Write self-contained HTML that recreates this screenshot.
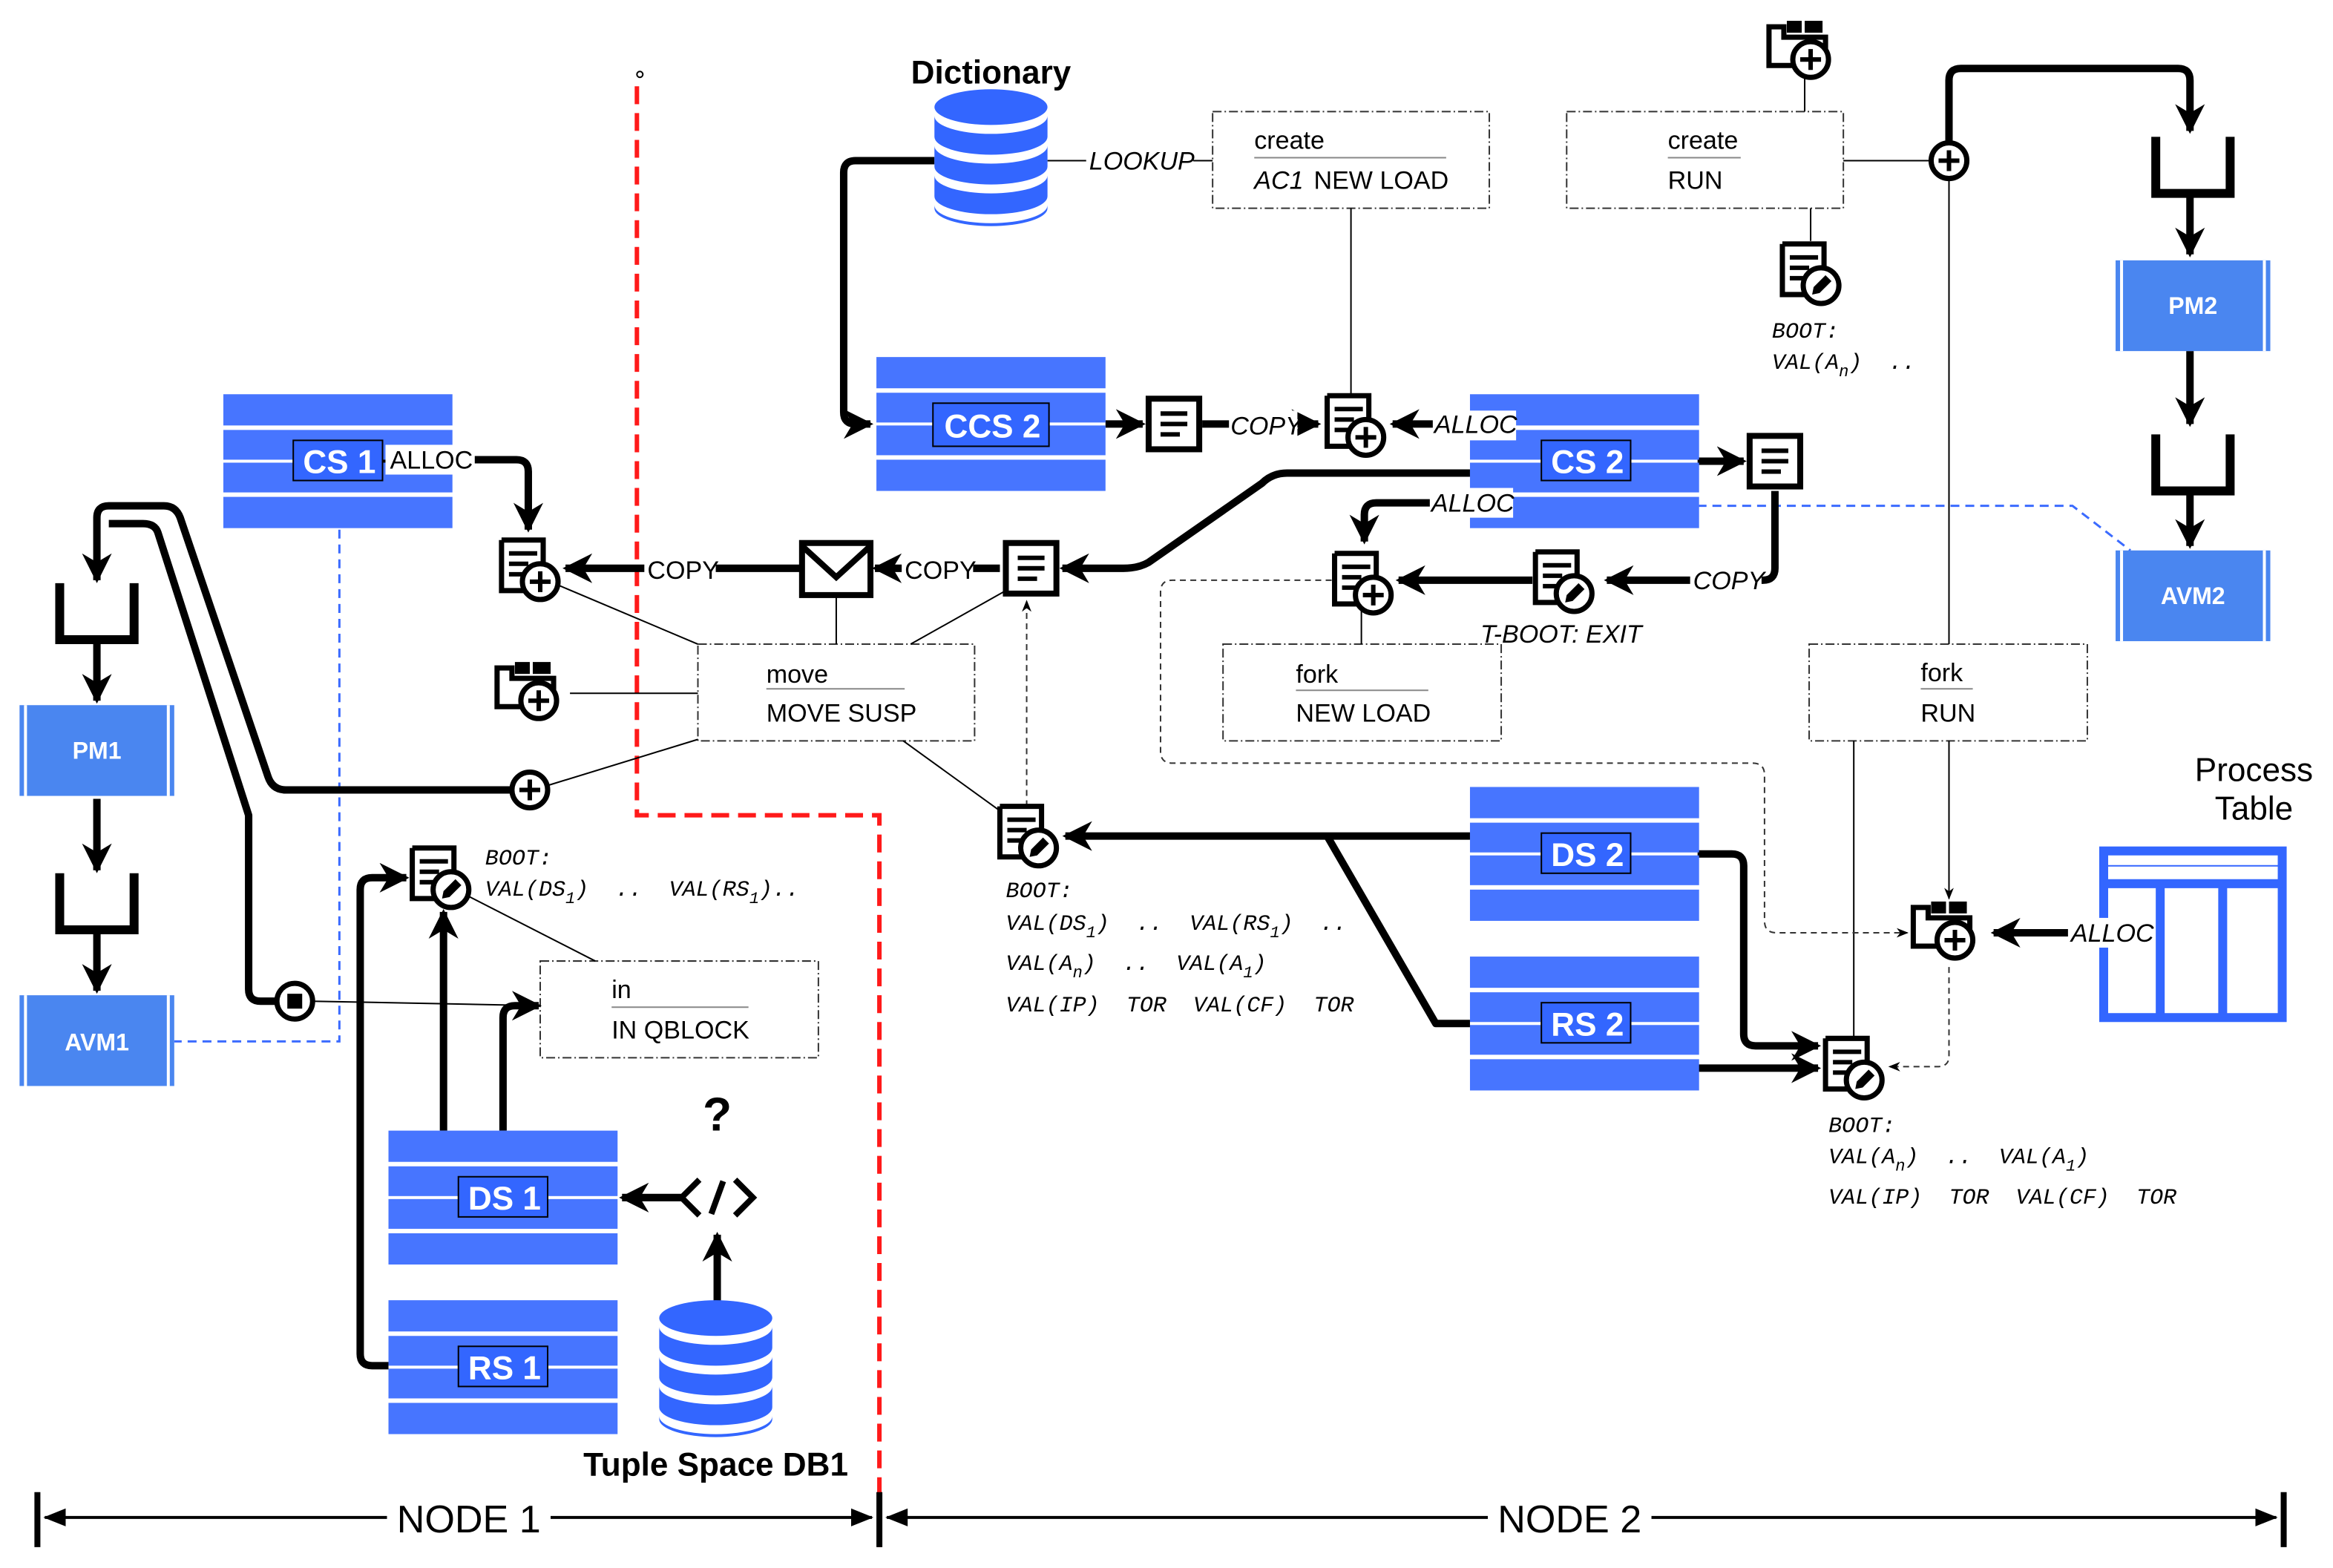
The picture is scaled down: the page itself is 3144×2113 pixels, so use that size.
<!DOCTYPE html>
<html><head><meta charset="utf-8"><style>
html,body{margin:0;padding:0;background:#fff;}
svg{display:block;}
text{font-family:"Liberation Sans",sans-serif;}
.it{font-style:italic;}
.mono{font-family:"Liberation Mono",monospace;font-style:italic;white-space:pre;}
</style></head><body>
<svg width="3144" height="2113" viewBox="0 0 1568 1054" xmlns="http://www.w3.org/2000/svg">
<defs>
<marker id="ah" viewBox="0 0 10 10" refX="9" refY="5" markerWidth="4" markerHeight="4" orient="auto" markerUnits="strokeWidth">
<path d="M0,0 L10,5 L0,10 L3,5 Z" fill="#000"/></marker>
<marker id="ahs" viewBox="0 0 10 10" refX="9" refY="5" markerWidth="8" markerHeight="8" orient="auto" markerUnits="strokeWidth">
<path d="M0,1 L10,5 L0,9 L3,5 Z" fill="#000"/></marker>
<g id="stack">
<rect x="0" y="0" width="154" height="21" fill="#4775ff"/>
<rect x="0" y="24" width="154" height="20" fill="#4775ff"/>
<rect x="0" y="46" width="154" height="20" fill="#4775ff"/>
<rect x="0" y="69" width="154" height="21" fill="#4775ff"/>
</g>
<g id="doclines"><rect x="-17" y="-17" width="34" height="34" fill="#fff" stroke="#000" stroke-width="4"/>
<path d="M-9,-7H9M-9,0H9M-9,7H4" stroke="#000" stroke-width="3"/></g>
<g id="docplus"><path d="M-18,-20H10V-2 M-18,-20V14H-2" fill="none" stroke="#000" stroke-width="3.5"/>
<path d="M-13,-11H6M-13,-4H0M-13,3H-4" stroke="#000" stroke-width="3"/>
<circle cx="8" cy="8" r="12" fill="#fff" stroke="#000" stroke-width="3.5"/>
<path d="M8,1V15M1,8H15" stroke="#000" stroke-width="3"/></g>
<g id="docedit"><path d="M-18,-20H10V-2 M-18,-20V14H-2" fill="none" stroke="#000" stroke-width="3.5"/>
<path d="M-13,-11H6M-13,-4H0M-13,3H-4" stroke="#000" stroke-width="3"/>
<circle cx="8" cy="8" r="12" fill="#fff" stroke="#000" stroke-width="3.5"/>
<path d="M2,14 L3,9 L11,1 L15,5 L7,13 Z" fill="#000"/></g>
<g id="folderplus"><path d="M-24,-14H-14V-7H14V12H-24Z" fill="#fff" stroke="#000" stroke-width="3.5"/>
<rect x="-12" y="-18" width="10" height="8" fill="#000"/><rect x="0" y="-18" width="12" height="8" fill="#000"/>
<circle cx="4" cy="8" r="12" fill="#fff" stroke="#000" stroke-width="3.5"/>
<path d="M4,1V15M-3,8H11" stroke="#000" stroke-width="3"/></g>
<g id="cplus"><circle r="12" fill="#fff" stroke="#000" stroke-width="3.5"/><path d="M0,-7V7M-7,0H7" stroke="#000" stroke-width="3"/></g>
<g id="queue"><path d="M-25,0V38H25V0" fill="none" stroke="#000" stroke-width="6"/></g>
<g id="db"><ellipse cx="0" cy="-36" rx="38" ry="12" fill="#3366ff"/>
<path d="M-38,-30 A38,12 0 0 0 38,-30 V-16 A38,12 0 0 1 -38,-16Z" fill="#3366ff"/>
<path d="M-38,-10 A38,12 0 0 0 38,-10 V4 A38,12 0 0 1 -38,4Z" fill="#3366ff"/>
<path d="M-38,10 A38,12 0 0 0 38,10 V24 A38,12 0 0 1 -38,24Z" fill="#3366ff"/>
<path d="M-38,30 A38,12 0 0 0 38,30 V32 A38,12 0 0 1 -38,32Z" fill="#3366ff"/>
</g>
<g id="pm"><rect x="0" y="0" width="104" height="61" fill="#4a86f0"/>
<path d="M4,0V61M100,0V61" stroke="#fff" stroke-width="2"/></g>
</defs>

<path d="M428,58 V548 H591 V1040" fill="none" stroke="#ff1a1a" stroke-width="3" stroke-dasharray="12,6"/>
<circle cx="430" cy="50" r="2" fill="none" stroke="#000"/>

<g fill="#fff" stroke="#333" stroke-width="1" stroke-dasharray="6,2,1,2">
<rect x="815" y="75" width="186" height="65"/>
<rect x="1053" y="75" width="186" height="65"/>
<rect x="469" y="433" width="186" height="65"/>
<rect x="822" y="433" width="187" height="65"/>
<rect x="1216" y="433" width="187" height="65"/>
<rect x="363" y="646" width="187" height="65"/>
</g>
<g stroke="#888" stroke-width="1">
<path d="M843,106H972M1121,106H1170M515,463H608M871,464H960M1291,463H1326M411,677H503"/>
</g>
<g font-size="17">
<text x="843" y="100">create</text><text x="843" y="127" class="it">AC1</text><text x="883" y="127">NEW LOAD</text>
<text x="1121" y="100">create</text><text x="1121" y="127">RUN</text>
<text x="515" y="459">move</text><text x="515" y="485">MOVE SUSP</text>
<text x="871" y="459">fork</text><text x="871" y="485">NEW LOAD</text>
<text x="1291" y="458">fork</text><text x="1291" y="485">RUN</text>
<text x="411" y="671">in</text><text x="411" y="698">IN QBLOCK</text>
</g>

<g stroke="#000" stroke-width="1" fill="none">
<path d="M704,108H815"/>
<path d="M908,140V265"/>
<path d="M372,392L469,433M562,400V433M676,397L612,433M383,466H469M368,528L469,497M607,498L672,545"/>
<path d="M210,673L363,676"/>
<path d="M310,600L400,646"/>
<path d="M915,410V433"/>
<path d="M1213,50V75M1217,140V162"/>
<path d="M1239,108H1298"/>
<path d="M1310,120V433M1246,498V697"/>
<path d="M1310,498V604" marker-end="url(#ahs)"/>
</g>
<g stroke="#333" stroke-width="1" fill="none" stroke-dasharray="4,3">
<path d="M690,542V404" marker-end="url(#ahs)"/>
<path d="M895,390H788Q780,390 780,398V505Q780,513 788,513H1178Q1186,513 1186,521V619Q1186,627 1194,627H1282" marker-end="url(#ahs)"/>
<path d="M1310,650V710Q1310,717 1302,717H1270" marker-end="url(#ahs)"/>
</g>
<g stroke="#3b6bff" stroke-width="1.5" fill="none" stroke-dasharray="6,4">
<path d="M228,356V700H117"/>
<path d="M1141,340H1393L1432,370"/>
</g>

<g stroke="#000" stroke-width="5" fill="none" stroke-linejoin="round">
<path d="M628,108H575Q567,108 567,116V277Q567,285 575,285H585" marker-end="url(#ah)"/>
<path d="M743,285H768" marker-end="url(#ah)"/>
<path d="M808,285H886" marker-end="url(#ah)"/>
<path d="M988,285H936" marker-end="url(#ah)"/>
<path d="M1141,310H1172" marker-end="url(#ah)"/>
<path d="M1193,330V382Q1193,390 1185,390H1080" marker-end="url(#ah)"/>
<path d="M988,338H925Q917,338 917,346V364" marker-end="url(#ah)"/>
<path d="M1030,390H940" marker-end="url(#ah)"/>
<path d="M988,318H865Q855,318 848,325L772,378Q765,382 755,382H714" marker-end="url(#ah)"/>
<path d="M672,382H588" marker-end="url(#ah)"/>
<path d="M538,382H380" marker-end="url(#ah)"/>
<path d="M257,309H347Q355,309 355,317V356" marker-end="url(#ah)"/>
<path d="M343,531H192Q183,531 180,522L121,348Q118,340 110,340H73Q65,340 65,348V390" marker-end="url(#ah)"/>
<path d="M186,673H175Q167,673 167,665V548L106,358Q104,352 96,352H73"/>
<path d="M298,760V613" marker-end="url(#ah)"/>
<path d="M338,760V684Q338,676 346,676H362" marker-end="url(#ah)"/>
<path d="M261,918H250Q242,918 242,910V598Q242,590 250,590H273" marker-end="url(#ah)"/>
<path d="M458,805H418" marker-end="url(#ah)"/>
<path d="M482,880V830" marker-end="url(#ah)"/>
<path d="M988,562H716" marker-end="url(#ah)"/>
<path d="M988,688H965L892,562"/>
<path d="M1141,574H1164Q1172,574 1172,582V695Q1172,703 1180,703H1222" marker-end="url(#ah)"/>
<path d="M1141,718H1222" marker-end="url(#ah)"/>
<path d="M1412,627H1340" marker-end="url(#ah)"/>
<path d="M1310,96V54Q1310,46 1318,46H1464Q1472,46 1472,54V88" marker-end="url(#ah)"/>
<path d="M1472,130V171" marker-end="url(#ah)"/>
<path d="M1472,236V285" marker-end="url(#ah)"/>
<path d="M1472,330V367" marker-end="url(#ah)"/>
<path d="M65,432V471" marker-end="url(#ah)"/>
<path d="M65,537V585" marker-end="url(#ah)"/>
<path d="M65,627V666" marker-end="url(#ah)"/>
</g>

<use href="#stack" x="150" y="265"/>
<use href="#stack" x="589" y="240"/>
<use href="#stack" x="988" y="265"/>
<use href="#stack" x="988" y="529"/>
<use href="#stack" x="988" y="643"/>
<use href="#stack" x="261" y="760"/>
<use href="#stack" x="261" y="874"/>
<g stroke="#000" stroke-width="1" fill="#3366ff">
<rect x="197" y="296" width="60" height="27"/>
<rect x="627" y="271" width="78" height="29"/>
<rect x="1036" y="296" width="60" height="27"/>
<rect x="1036" y="560" width="60" height="27"/>
<rect x="1036" y="674" width="60" height="27"/>
<rect x="308" y="791" width="60" height="27"/>
<rect x="308" y="905" width="60" height="27"/>
</g>
<g fill="#fff" font-weight="bold" font-size="22" text-anchor="middle">
<text x="228" y="318">CS 1</text><text x="667" y="294">CCS 2</text><text x="1067" y="318">CS 2</text>
<text x="1067" y="582">DS 2</text><text x="1067" y="696">RS 2</text>
<text x="339" y="813">DS 1</text><text x="339" y="927">RS 1</text>
</g>

<use href="#pm" x="13" y="474"/><use href="#pm" x="13" y="669"/>
<use href="#pm" x="1422" y="175"/><use href="#pm" x="1422" y="370"/>
<g fill="#fff" font-weight="bold" font-size="16" text-anchor="middle">
<text x="65" y="510">PM1</text><text x="65" y="706">AVM1</text>
<text x="1474" y="211">PM2</text><text x="1474" y="406">AVM2</text>
</g>
<use href="#queue" x="65" y="392"/><use href="#queue" x="65" y="587"/>
<use href="#queue" x="1474" y="92"/><use href="#queue" x="1474" y="292"/>

<use href="#db" x="666" y="108"/>
<use href="#db" x="481" y="922"/>

<g fill="none" stroke="#3366ff" stroke-width="6">
<rect x="1414" y="572" width="120" height="112"/>
<path d="M1414,594H1534M1452,594V684M1494,594V684"/>
</g>
<path d="M1414,582H1534" stroke="#3366ff" stroke-width="1"/>

<use href="#doclines" x="789" y="285"/>
<use href="#doclines" x="1193" y="310"/>
<use href="#doclines" x="693" y="382"/>
<use href="#docplus" x="355" y="383"/>
<use href="#docplus" x="910" y="286"/>
<use href="#docplus" x="915" y="392"/>
<use href="#docedit" x="1216" y="184"/>
<use href="#docedit" x="1050" y="391"/>
<use href="#docedit" x="690" y="562"/>
<use href="#docedit" x="295" y="590"/>
<use href="#docedit" x="1245" y="718"/>
<use href="#folderplus" x="1213" y="32"/>
<use href="#folderplus" x="358" y="463"/>
<use href="#folderplus" x="1310" y="624"/>
<use href="#cplus" x="1310" y="108"/>
<use href="#cplus" x="356" y="531"/>
<circle cx="198" cy="673" r="12" fill="#fff" stroke="#000" stroke-width="3.5"/>
<rect x="193" y="668" width="10" height="10" fill="#000"/>
<rect x="539" y="365" width="46" height="35" fill="#fff" stroke="#000" stroke-width="4"/>
<path d="M539,367L562,388L585,367" fill="none" stroke="#000" stroke-width="4"/>
<path d="M470,793L458,805L470,817M494,793L506,805L494,817M486,794L478,816" fill="none" stroke="#000" stroke-width="4"/>
<text x="482" y="760" font-size="32" font-weight="bold" text-anchor="middle">?</text>

<g font-size="17">
<rect x="730" y="97" width="72" height="20" fill="#fff"/><text x="732" y="114" class="it">LOOKUP</text>
<rect x="826" y="276" width="46" height="20" fill="#fff"/><text x="827" y="292" class="it">COPY</text>
<rect x="963" y="276" width="56" height="20" fill="#fff"/><text x="964" y="291" class="it">ALLOC</text>
<rect x="961" y="328" width="56" height="20" fill="#fff"/><text x="962" y="344" class="it">ALLOC</text>
<rect x="1136" y="380" width="48" height="20" fill="#fff"/><text x="1138" y="396" class="it">COPY</text>
<rect x="606" y="373" width="48" height="20" fill="#fff"/><text x="608" y="389">COPY</text>
<rect x="433" y="373" width="48" height="20" fill="#fff"/><text x="435" y="389">COPY</text>
<rect x="259" y="299" width="60" height="20" fill="#fff"/><text x="262" y="315">ALLOC</text>
<rect x="1390" y="617" width="58" height="20" fill="#fff"/><text x="1392" y="633" class="it">ALLOC</text>
<text x="995" y="432" class="it">T-BOOT: EXIT</text>
</g>
<g font-size="15">
<text x="1191" y="227" class="mono">BOOT:</text>
<text x="1191" y="248" class="mono">VAL(A<tspan font-size="11" dy="5">n</tspan><tspan dy="-5">)  ..</tspan></text>
<text x="326" y="581" class="mono">BOOT:</text>
<text x="326" y="602" class="mono">VAL(DS<tspan font-size="11" dy="5">1</tspan><tspan dy="-5">)  ..  VAL(RS</tspan><tspan font-size="11" dy="5">1</tspan><tspan dy="-5">)..</tspan></text>
<text x="676" y="603" class="mono">BOOT:</text>
<text x="676" y="625" class="mono">VAL(DS<tspan font-size="11" dy="5">1</tspan><tspan dy="-5">)  ..  VAL(RS</tspan><tspan font-size="11" dy="5">1</tspan><tspan dy="-5">)  ..</tspan></text>
<text x="676" y="652" class="mono">VAL(A<tspan font-size="11" dy="5">n</tspan><tspan dy="-5">)  ..  VAL(A</tspan><tspan font-size="11" dy="5">1</tspan><tspan dy="-5">)</tspan></text>
<text x="676" y="680" class="mono">VAL(IP)  TOR  VAL(CF)  TOR</text>
<text x="1229" y="761" class="mono">BOOT:</text>
<text x="1229" y="782" class="mono">VAL(A<tspan font-size="11" dy="5">n</tspan><tspan dy="-5">)  ..  VAL(A</tspan><tspan font-size="11" dy="5">1</tspan><tspan dy="-5">)</tspan></text>
<text x="1229" y="809" class="mono">VAL(IP)  TOR  VAL(CF)  TOR</text>
</g>

<text x="666" y="56" font-size="22" font-weight="bold" text-anchor="middle">Dictionary</text>
<text x="481" y="992" font-size="22" font-weight="bold" text-anchor="middle">Tuple Space DB1</text>
<text x="1515" y="525" font-size="22" text-anchor="middle">Process</text>
<text x="1515" y="551" font-size="22" text-anchor="middle">Table</text>

<g stroke="#000" fill="none">
<path d="M25,1003V1040M1535,1003V1040M591,1003V1040" stroke-width="4"/>
<path d="M30,1020H260M370,1020H586" stroke-width="2"/>
<path d="M596,1020H1000M1110,1020H1530" stroke-width="2"/>
</g>
<g fill="#000">
<path d="M29,1020L44,1014L44,1026Z"/><path d="M587,1020L572,1014L572,1026Z"/>
<path d="M595,1020L610,1014L610,1026Z"/><path d="M1531,1020L1516,1014L1516,1026Z"/>
</g>
<text x="315" y="1030" font-size="26" text-anchor="middle">NODE 1</text>
<text x="1055" y="1030" font-size="26" text-anchor="middle">NODE 2</text>
</svg>
</body></html>
